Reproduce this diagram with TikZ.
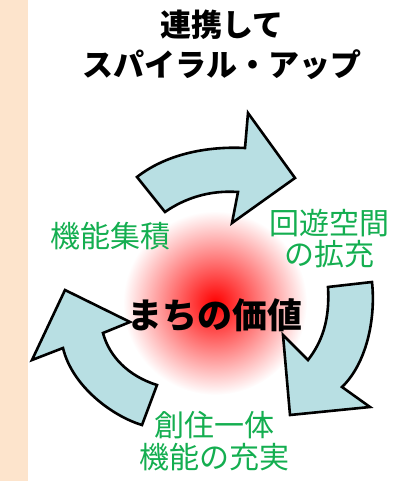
\documentclass[tikz,border=0pt]{standalone}
\usepackage{fontspec}
\newfontfamily\jpfont{Noto Sans CJK JP}
\usetikzlibrary{positioning}
\definecolor{peach}{RGB}{253,228,204}
\definecolor{arrowblue}{RGB}{184,223,227}
\definecolor{labelgreen}{RGB}{20,174,80}

\begin{document}
\begin{tikzpicture}[x=1pt,y=-1pt,%
spiral arrow/.style = {fill=arrowblue, draw=black, line width=2.6pt, line join=miter},
green label/.style = {text=labelgreen, align=center, inner sep=0pt, font=\jpfont\fontsize{30}{31}\selectfont},
black label/.style = {text=black, align=center, inner sep=0pt, font=\jpfont\bfseries\fontsize{31}{40}\selectfont}]
\useasboundingbox (0,0) rectangle (414,481);
\fill[peach] (0,0) rectangle (28,481);

% glow behind the centre text
\shade[inner color=red, outer color=white] (215,303) circle (92);

% the three arrows of the spiral
\draw[spiral arrow] (137,177) .. controls (165,155) and (205,146) .. (245,148)
  -- (248,113) -- (295,178) -- (232,223) -- (238,192)
  .. controls (210,190) and (185,198) .. (165,212) -- cycle;
\draw[spiral arrow] (328,287) -- (372,282) .. controls (376,320) and (366,364) .. (342,387)
  -- (370,407) -- (290,415) -- (283,335) -- (308,360)
  .. controls (322,342) and (330,320) .. (328,287) -- cycle;
\draw[spiral arrow] (157,385) -- (142,425) .. controls (112,416) and (72,386) .. (63,348)
  -- (32,360) -- (65,290) -- (130,322) -- (103,333)
  .. controls (109,356) and (128,376) .. (157,385) -- cycle;

\node[black label] (title) at (222,45) {連携して\\スパイラル・アップ};
\node[black label, font=\jpfont\bfseries\fontsize{35}{40}\selectfont] (value) at (215,315) {まちの価値};

\node[green label] (lblA) at (110,236) {機能集積};
\node[green label] (lblB) at (329,239) {回遊空間\\の拡充};
\node[green label, font=\jpfont\fontsize{30}{32}\selectfont] (lblC) at (214,441) {創住一体\\機能の充実};
\end{tikzpicture}
\end{document}
